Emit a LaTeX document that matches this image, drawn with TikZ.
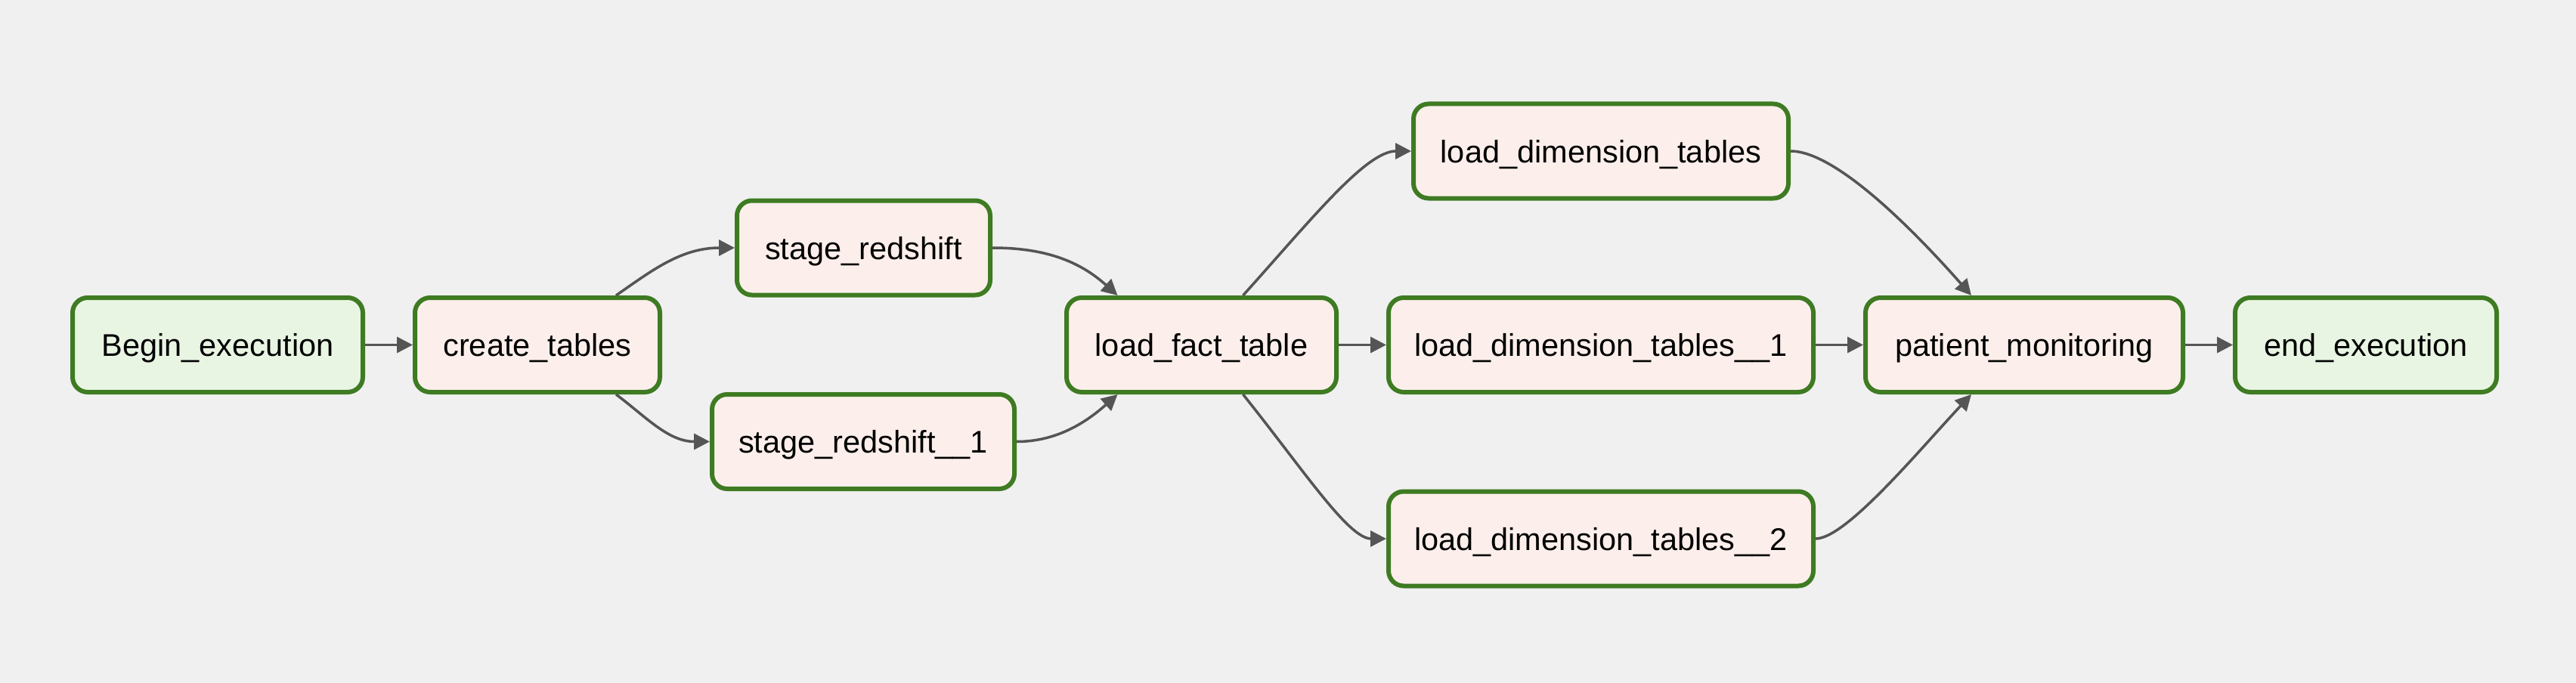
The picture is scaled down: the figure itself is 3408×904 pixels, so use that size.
\documentclass[tikz,border=0pt]{standalone}
\usepackage{fontspec}
\setmainfont{Liberation Sans}
\usetikzlibrary{arrows.meta}
\definecolor{bgc}{HTML}{F0F0F0}
\definecolor{brd}{HTML}{3E7B22}
\definecolor{pinkf}{HTML}{FCEFEB}
\definecolor{greenf}{HTML}{E9F5E3}
\definecolor{edgec}{HTML}{555555}
\tikzset{
  task/.style={draw=brd, line width=6pt, rounded corners=20pt, minimum height=125pt,
    inner sep=0pt, text height=30pt, text depth=0pt,
    font=\fontsize{41.5}{49}\selectfont, text=black},
  optask/.style={task, fill=pinkf},
  dummytask/.style={task, fill=greenf},
  conn/.style={draw=edgec, line width=3.5pt, -{Triangle[length=21pt,width=21pt]}},
}
\begin{document}
\begin{tikzpicture}[x=1pt,y=-1pt]
\fill[bgc] (0,0) rectangle (3408,904);
\useasboundingbox (0,0) rectangle (3408,904);

\node[dummytask, minimum width=384pt] (begin) at (288,456.5) {Begin\_execution};
\node[optask, minimum width=324pt] (create) at (711,456.5) {create\_tables};
\node[optask, minimum width=335pt] (stage) at (1142.5,328) {stage\_redshift};
\node[optask, minimum width=400pt] (stageb) at (1142,584.5) {stage\_redshift\_\_1};
\node[optask, minimum width=357pt] (fact) at (1589.5,456.5) {load\_fact\_table};
\node[optask, minimum width=496pt] (dim) at (2118,200) {load\_dimension\_tables};
\node[optask, minimum width=562pt] (dima) at (2118,456.5) {load\_dimension\_tables\_\_1};
\node[optask, minimum width=562pt] (dimb) at (2118,713) {load\_dimension\_tables\_\_2};
\node[optask, minimum width=420pt] (patient) at (2678,456.5) {patient\_monitoring};
\node[dummytask, minimum width=346pt] (end) at (3130,456.5) {end\_execution};

\draw[conn] (begin.east) -- (create.west);
\draw[conn] ([xshift=104pt]create.north) .. controls +(45,-31) and +(-72,0) .. (stage.west);
\draw[conn] ([xshift=104pt]create.south) .. controls +(40,30) and +(-55,0) .. (stageb.west);
\draw[conn] (stage.east) .. controls +(70,0) and +(-50,-45) .. ([xshift=-111pt]fact.north);
\draw[conn] (stageb.east) .. controls +(50,0) and +(-45,40) .. ([xshift=-111pt]fact.south);
\draw[conn] ([xshift=55pt]fact.north) .. controls +(90,-100) and +(-60,0) .. (dim.west);
\draw[conn] (fact.east) -- (dima.west);
\draw[conn] ([xshift=55pt]fact.south) .. controls +(80,100) and +(-50,0) .. (dimb.west);
\draw[conn] (dim.east) .. controls +(60,0) and +(-75,-85) .. ([xshift=-70pt]patient.north);
\draw[conn] (dima.east) -- (patient.west);
\draw[conn] (dimb.east) .. controls +(40,0) and +(-70,75) .. ([xshift=-70pt]patient.south);
\draw[conn] (patient.east) -- (end.west);
\end{tikzpicture}
\end{document}
